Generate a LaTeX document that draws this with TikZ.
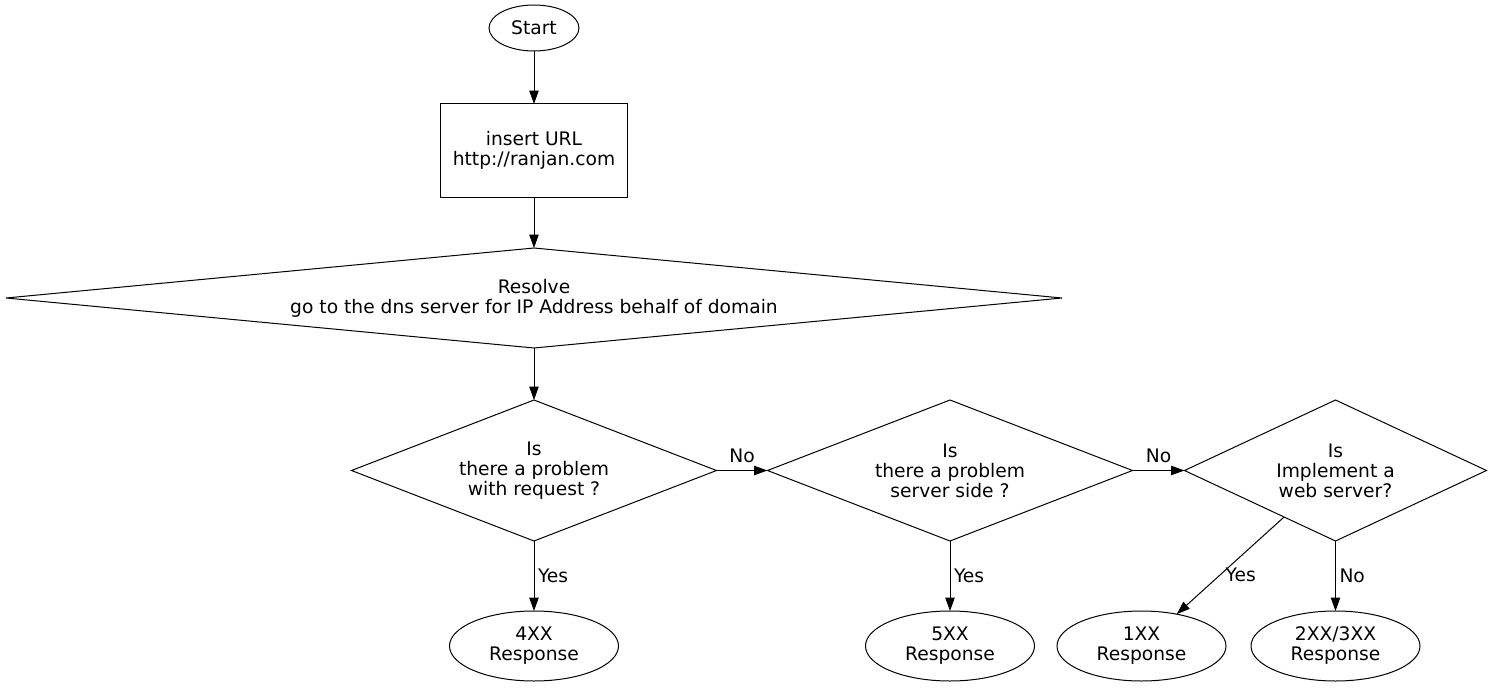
\documentclass[tikz,border=0pt]{standalone}
\usepackage{fontspec}
\setmainfont{DejaVu Sans}
\usetikzlibrary{arrows.meta,positioning,shapes.geometric}

\begin{document}
\begin{tikzpicture}[
  font=\fontsize{14}{15}\selectfont,
  line width=0.75pt,
  every node/.style={inner sep=0pt,outer sep=0pt,align=center},
  term/.style={draw,ellipse,minimum width=126.75pt,minimum height=52.5pt},
  box/.style={draw,rectangle,minimum width=139.5pt,minimum height=69.75pt},
  dec/.style={draw,diamond,minimum height=105.75pt},
  lbl/.style={inner sep=1.5pt},
  arr/.style={-{Triangle[length=10pt,width=7pt]}}
]
\useasboundingbox (-400.5pt,21pt) rectangle (718.5pt,-495pt);
\node[draw,ellipse,minimum width=67.5pt,minimum height=34.5pt] (start) at (0,0) {Start};
\node[box,below=39.75pt of start] (url) {insert URL\\http://ranjan.com};
\node[draw,diamond,shape aspect=10.56,minimum width=792pt,minimum height=75pt,below=38.25pt of url] (dns) {Resolve\\go to the dns server for IP Address behalf of domain};
\node[dec,shape aspect=2.59,minimum width=273.75pt,below=39pt of dns] (req) {Is\\there a problem\\with request ?};
\node[dec,shape aspect=2.59,minimum width=273.75pt,right=38.25pt of req] (srv) {Is\\there a problem\\server side ?};
\node[dec,shape aspect=2.14,minimum width=226.5pt,right=39pt of srv] (web) {Is\\Implement a\\web server?};
% responses
\node[term,below=52.5pt of req] (r4) {4XX\\Response};
\node[term,below=52.5pt of srv] (r5) {5XX\\Response};
\node[term,below=52.5pt of web.south,anchor=north] (r23) {2XX/3XX\\Response};
\node[term,left=18.75pt of r23] (r1) {1XX\\Response};
\draw[arr] (start) -- (url);
\draw[arr] (url) -- (dns);
\draw[arr] (dns) -- (req);
\draw[arr] (req) -- node[lbl,above=4pt] {No} (srv);
\draw[arr] (srv) -- node[lbl,above=4pt] {No} (web);
\draw[arr] (req) -- node[lbl,right=1.5pt] {Yes} (r4);
\draw[arr] (srv) -- node[lbl,right=1.5pt] {Yes} (r5);
\draw[arr] (web) -- node[lbl,pos=0.6,right=3pt] {Yes} (r1);
\draw[arr] (web) -- node[lbl,right=1.5pt] {No} (r23);
\end{tikzpicture}
\end{document}
